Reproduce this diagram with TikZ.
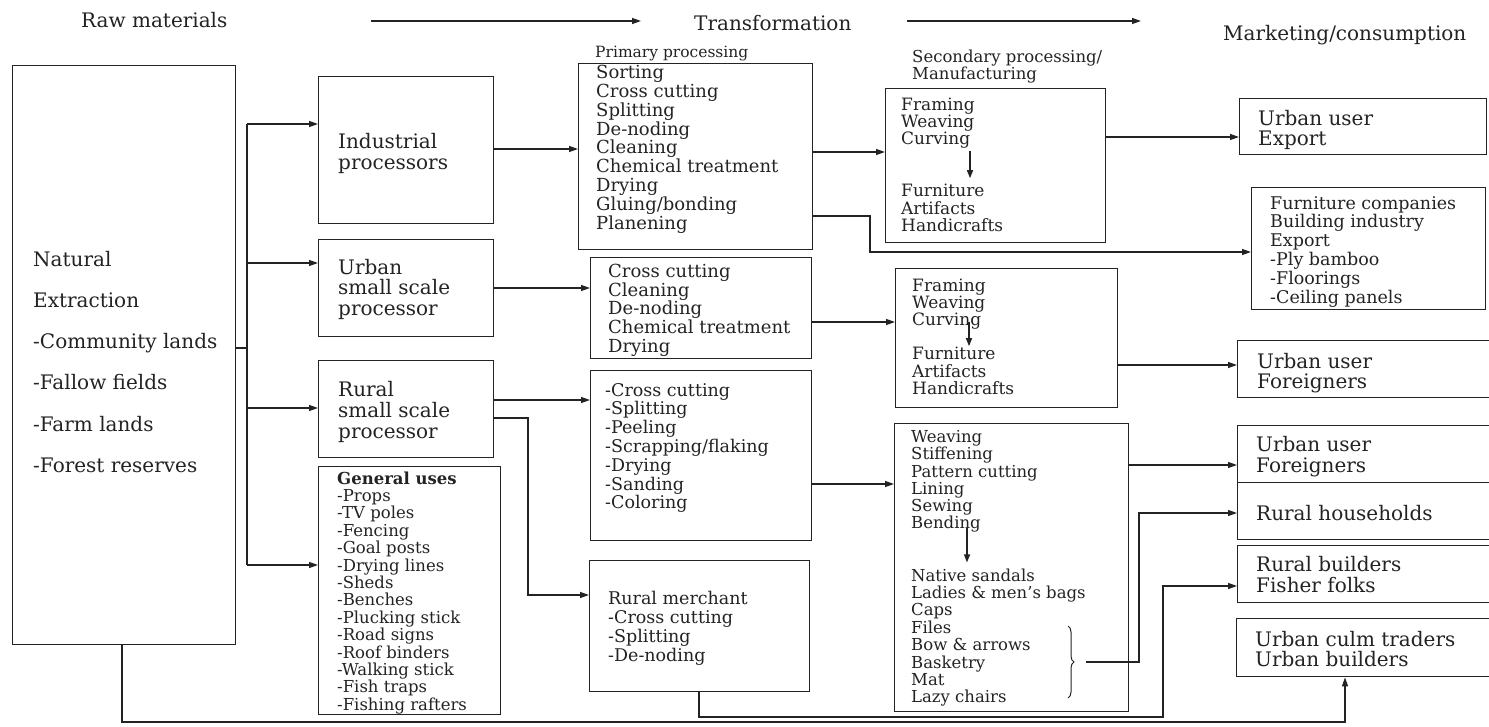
\documentclass[tikz,border=0pt]{standalone}
\usepackage{fontspec}
\setmainfont{DejaVu Serif}
\usetikzlibrary{arrows.meta,decorations.pathreplacing,calc}
\definecolor{ink}{RGB}{35,35,35}
\newcommand{\fs}[2]{\fontsize{#1}{#2}\selectfont}
\begin{document}
\begin{tikzpicture}[x=1pt,y=-1pt,
  box/.style={draw=ink,line width=1.4pt,anchor=north west,inner sep=0pt,rectangle},
  txt/.style={anchor=north west,inner sep=0pt,align=left,text=ink},
  conn/.style={draw=ink,line width=1.3pt},
  arr/.style={conn,-{Triangle[length=9pt,width=6pt]}},
  sarr/.style={conn,-{Triangle[length=8pt,width=6pt]}}]
\useasboundingbox (0,0) rectangle (1489,727);
\fill[white] (0,0) rectangle (1489,727);
\clip (0,0) rectangle (1489,727);

% header
\node[txt,font=\fs{20}{22}] (raw) at (81,12) {Raw materials};
\node[txt,font=\fs{20}{22}] (trans) at (694,15) {Transformation};
\node[txt,font=\fs{20}{22}] (mark) at (1223,25) {Marketing/consumption};
\coordinate (h1a) at (371,21); \coordinate (h1b) at (641,21);
\coordinate (h2a) at (907,21); \coordinate (h2b) at (1141,21);
\draw[arr] (h1a) -- (h1b);
\draw[arr] (h2a) -- (h2b);
\node[txt,font=\fs{15.5}{17}] (plab) at (595,45.8) {Primary processing};
\node[txt,font=\fs{16.5}{17}] (slab) at (912,49.4) {Secondary processing/\\Manufacturing};

% boxes
\node[box,minimum width=223pt,minimum height=579pt] (nat) at (12,65) {};
\node[box,minimum width=175pt,minimum height=147pt] (ind) at (318,76) {};
\node[box,minimum width=175pt,minimum height=97pt] (urb) at (318,239) {};
\node[box,minimum width=175pt,minimum height=97pt] (rur) at (318,360) {};
\node[box,minimum width=182pt,minimum height=248pt] (gen) at (318,466) {};
\node[box,minimum width=234pt,minimum height=186pt] (prim) at (578,63) {};
\node[box,minimum width=221pt,minimum height=101pt] (cross) at (590,257) {};
\node[box,minimum width=221pt,minimum height=170pt] (rprim) at (590,370) {};
\node[box,minimum width=220pt,minimum height=131pt] (merch) at (589,560) {};
\node[box,minimum width=220pt,minimum height=154pt] (fr1) at (885,88) {};
\node[box,minimum width=222pt,minimum height=139pt] (fr2) at (895,268) {};
\node[box,minimum width=234pt,minimum height=288pt] (weav) at (894,423) {};
\node[box,minimum width=247pt,minimum height=56pt] (ue) at (1239,98) {};
\node[box,minimum width=234pt,minimum height=122pt] (furn) at (1251,187) {};
\node[box,minimum width=263pt,minimum height=57pt] (uf1) at (1237,340) {};
\node[box,minimum width=263pt,minimum height=57pt] (uf2) at (1237,425) {};
\node[box,minimum width=263pt,minimum height=57pt] (rh) at (1237,482) {};
\node[box,minimum width=263pt,minimum height=57pt] (rb) at (1237,545) {};
\node[box,minimum width=264pt,minimum height=58pt] (uc) at (1236,618) {};

% texts
\node[txt,font=\fs{20}{41.2}] (natT) at (33,251) {Natural\\Extraction\\-Community lands\\-Fallow fields\\-Farm lands\\-Forest reserves};
\node[txt,font=\fs{20}{21}] (indT) at (338,133) {Industrial\\processors};
\node[txt,font=\fs{20}{20.5}] (urbT) at (338,259) {Urban\\small scale\\processor};
\node[txt,font=\fs{20}{21}] (rurT) at (338,381) {Rural\\small scale\\processor};
\node[txt,font=\fs{16.5}{17.4}] (genT) at (337,471.4) {\textbf{General uses}\\-Props\\-TV poles\\-Fencing\\-Goal posts\\-Drying lines\\-Sheds\\-Benches\\-Plucking stick\\-Road signs\\-Roof binders\\-Walking stick\\-Fish traps\\-Fishing rafters};
\node[txt,font=\fs{18}{18.9}] (primT) at (596,64.8) {Sorting\\Cross cutting\\Splitting\\De-noding\\Cleaning\\Chemical treatment\\Drying\\Gluing/bonding\\Planening};
\node[txt,font=\fs{18}{18.75}] (crossT) at (608,263.8) {Cross cutting\\Cleaning\\De-noding\\Chemical treatment\\Drying};
\node[txt,font=\fs{17.5}{18.8}] (rprimT) at (605,383) {-Cross cutting\\-Splitting\\-Peeling\\-Scrapping/flaking\\-Drying\\-Sanding\\-Coloring};
\node[txt,font=\fs{17.5}{19}] (merchT) at (608,591) {Rural merchant\\-Cross cutting\\-Splitting\\-De-noding};
\node[txt,font=\fs{17}{17}] (fr1a) at (901,98.2) {Framing\\Weaving\\Curving};
\node[txt,font=\fs{17}{17.5}] (fr1b) at (901,184.2) {Furniture\\Artifacts\\Handicrafts};
\node[txt,font=\fs{17}{17}] (fr2a) at (912,279.2) {Framing\\Weaving\\Curving};
\node[txt,font=\fs{17}{17.5}] (fr2b) at (912,347.2) {Furniture\\Artifacts\\Handicrafts};
\node[txt,font=\fs{16.5}{17.2}] (weava) at (911,430.4) {Weaving\\Stiffening\\Pattern cutting\\Lining\\Sewing\\Bending};
\node[txt,font=\fs{16.5}{17.4}] (weavb) at (911,568.4) {Native sandals\\Ladies \& men's bags\\Caps\\Files\\Bow \& arrows\\Basketry\\Mat\\Lazy chairs};
\node[txt,font=\fs{20}{20}] (ueT) at (1258,110) {Urban user\\Export};
\node[txt,font=\fs{17.5}{18.8}] (furnT) at (1270,196) {Furniture companies\\Building industry\\Export\\-Ply bamboo\\-Floorings\\-Ceiling panels};
\node[txt,font=\fs{20}{20}] (uf1T) at (1257,353) {Urban user\\Foreigners};
\node[txt,font=\fs{20}{21}] (uf2T) at (1256,436) {Urban user\\Foreigners};
\node[txt,font=\fs{20}{21}] (rhT) at (1256,505) {Rural households};
\node[txt,font=\fs{20}{21}] (rbT) at (1256,556) {Rural builders\\Fisher folks};
\node[txt,font=\fs{20}{20}] (ucT) at (1255,631) {Urban culm traders\\Urban builders};

% inner arrows
\coordinate (v1) at (970,0); \coordinate (v2) at (969,0); \coordinate (v3) at (967,0);
\draw[sarr] ([yshift=-2pt]fr1a.south -| v1) -- ([yshift=6pt]fr1b.north -| v1);
\draw[sarr] ([yshift=8pt]fr2a.south -| v2) -- ([yshift=1pt]fr2b.north -| v2);
\draw[sarr] ([yshift=5pt]weava.south -| v3) -- ([yshift=6pt]weavb.north -| v3);

% trunk from natural extraction
\coordinate (jn) at (247,348);
\coordinate (jt) at (247,124);
\coordinate (ju) at (247,263);
\coordinate (jr) at (247,408);
\coordinate (jg) at (247,565);
\draw[conn] (nat.east |- jn) -- (jn);
\draw[conn] (jt) -- (jg);
\draw[arr] (jt) -- (ind.west |- jt);
\draw[arr] (ju) -- (urb.west |- ju);
\draw[arr] (jr) -- (rur.west |- jr);
\draw[arr] (jg) -- (gen.west |- jg);

% processors to primary
\coordinate (yA) at (0,149); \draw[arr] (ind.east |- yA) -- (prim.west |- yA);
\coordinate (yB) at (0,288); \draw[arr] (urb.east |- yB) -- (cross.west |- yB);
\coordinate (yC) at (0,400); \draw[arr] (rur.east |- yC) -- (rprim.west |- yC);
\coordinate (yD) at (0,418); \coordinate (kD) at (528,595);
\draw[arr] (rur.east |- yD) -| (kD) -- (merch.west |- kD);

% primary to secondary / market
\coordinate (yE) at (0,152); \draw[arr] (prim.east |- yE) -- (fr1.west |- yE);
\coordinate (yF) at (0,216); \coordinate (kF) at (870,252);
\draw[arr] (prim.east |- yF) -| (kF) -- (furn.west |- kF);
\coordinate (yG) at (0,137); \draw[arr] (fr1.east |- yG) -- (ue.west |- yG);
\coordinate (yH) at (0,322); \draw[arr] (cross.east |- yH) -- (fr2.west |- yH);
\coordinate (yI) at (0,365); \draw[arr] (fr2.east |- yI) -- (uf1.west |- yI);
\coordinate (yJ) at (0,484); \draw[arr] (rprim.east |- yJ) -- (weav.west |- yJ);
\coordinate (yK) at (0,465); \draw[arr] (weav.east |- yK) -- (uf2.west |- yK);

% brace and its connector
\draw[conn,line width=1pt,decorate,decoration={brace,amplitude=6pt}] (1068,626) -- (1068,698);
\coordinate (bt) at (1086,662); \coordinate (kL) at (1139,513);
\draw[arr] (bt) -| (kL) -- (rh.west |- kL);

% rural merchant to rural builders
\coordinate (kM) at (699,717); \coordinate (kM2) at (1163,586);
\draw[arr] (merch.south -| kM) -- (kM) -| (kM2) -- (rb.west |- kM2);

% natural extraction to urban culm traders
\coordinate (kN) at (122,722); \coordinate (kN2) at (1345,722);
\draw[arr] (nat.south -| kN) -- (kN) -- (kN2) -- (uc.south -| kN2);
\end{tikzpicture}
\end{document}
